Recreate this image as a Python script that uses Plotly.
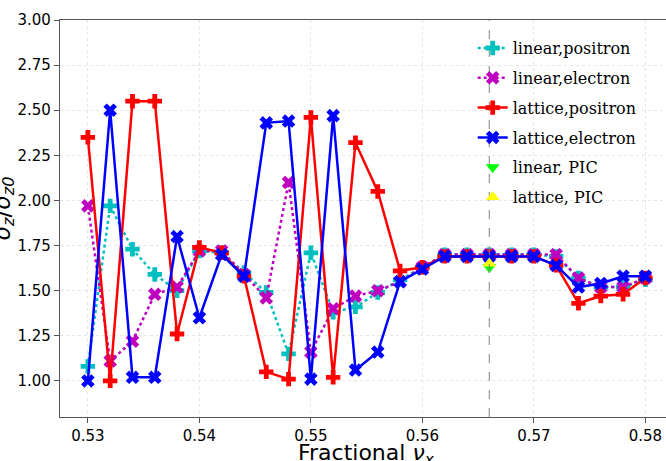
import plotly.graph_objects as go

nu_x = [0.530, 0.532, 0.534, 0.536, 0.538, 0.540, 0.542, 0.544, 0.546, 0.548,
        0.550, 0.552, 0.554, 0.556, 0.558, 0.560, 0.562, 0.564, 0.566, 0.568,
        0.570, 0.572, 0.574, 0.576, 0.578, 0.580]

linear_positron = [1.08, 1.97, 1.73, 1.59, 1.50, 1.72, 1.71, 1.60, 1.49, 1.15,
                   1.71, 1.38, 1.41, 1.49, 1.56, 1.63, 1.70, 1.70, 1.70, 1.70,
                   1.70, 1.69, 1.57, 1.52, 1.52, 1.56]
linear_electron = [1.97, 1.11, 1.22, 1.48, 1.52, 1.72, 1.72, 1.59, 1.46, 2.10,
                   1.16, 1.40, 1.47, 1.50, 1.55, 1.63, 1.70, 1.70, 1.70, 1.70,
                   1.70, 1.70, 1.57, 1.52, 1.52, 1.57]
lattice_positron = [2.35, 1.00, 2.55, 2.55, 1.26, 1.74, 1.71, 1.58, 1.05, 1.01,
                    2.46, 1.02, 2.32, 2.05, 1.61, 1.63, 1.69, 1.69, 1.69, 1.69,
                    1.69, 1.64, 1.43, 1.47, 1.48, 1.57]
lattice_electron = [1.00, 2.50, 1.02, 1.02, 1.80, 1.35, 1.70, 1.58, 2.43, 2.44,
                    1.01, 2.47, 1.06, 1.16, 1.55, 1.62, 1.69, 1.69, 1.69, 1.69,
                    1.69, 1.64, 1.52, 1.54, 1.58, 1.58]

pic_x = [0.566]
linear_pic = [1.63]
lattice_pic = [1.65]
dashed_x = 0.566

x_ticks = [0.53, 0.54, 0.55, 0.56, 0.57, 0.58]
y_ticks = [1.00, 1.25, 1.50, 1.75, 2.00, 2.25, 2.50, 2.75, 3.00]

fig = go.Figure()

fig.add_trace(go.Scatter(x=nu_x, y=linear_positron, mode="lines+markers",
                         name="linear,positron", legendgroup="a",
                         line=dict(color="#00BFBF", width=2.5, dash="dot"),
                         marker=dict(symbol="cross", size=12, color="#00BFBF")))
fig.add_trace(go.Scatter(x=nu_x, y=linear_electron, mode="lines+markers",
                         name="linear,electron", legendgroup="b",
                         line=dict(color="#BF00BF", width=2.5, dash="dot"),
                         marker=dict(symbol="x", size=12, color="#BF00BF")))
fig.add_trace(go.Scatter(x=nu_x, y=lattice_positron, mode="lines+markers",
                         name="lattice,positron", legendgroup="c",
                         line=dict(color="#FF0000", width=2.5),
                         marker=dict(symbol="cross", size=12, color="#FF0000")))
fig.add_trace(go.Scatter(x=nu_x, y=lattice_electron, mode="lines+markers",
                         name="lattice,electron", legendgroup="d",
                         line=dict(color="#0000FF", width=2.5),
                         marker=dict(symbol="x", size=12, color="#0000FF")))
fig.add_trace(go.Scatter(x=pic_x, y=linear_pic, mode="markers",
                         name="linear, PIC", legendgroup="e",
                         marker=dict(symbol="triangle-down", size=12, color="#00FF00")))
fig.add_trace(go.Scatter(x=pic_x, y=lattice_pic, mode="markers",
                         name="lattice, PIC", legendgroup="f",
                         marker=dict(symbol="triangle-up", size=12, color="#FFFF00")))

fig.add_vline(x=dashed_x, line=dict(color="gray", width=1, dash="dash"))

axis_common = dict(
    showline=True, linecolor="#555555", linewidth=1.2, mirror=True,
    ticks="outside", ticklen=5, tickcolor="#555555",
    showgrid=True, gridcolor="#e6e6e6", griddash="dot", gridwidth=1,
    zeroline=False, automargin=False,
    tickfont=dict(family="DejaVu Sans", size=15, color="black"),
)

fig.update_xaxes(range=[0.5275, 0.58185], tickvals=x_ticks, tickformat=".2f",
                 **axis_common)
fig.update_yaxes(range=[0.8, 3.0], tickvals=y_ticks, tickformat=".2f",
                 **axis_common)

fig.add_annotation(text="Fractional <i>ν<sub>x</sub></i>",
                   xref="paper", yref="paper", x=0.505, y=-0.0957,
                   xanchor="center", yanchor="middle",
                   showarrow=False,
                   font=dict(family="DejaVu Sans", size=22, color="black"))
fig.add_annotation(text="<i>σ<sub>z</sub></i>/<i>σ<sub>z0</sub></i>",
                   xref="paper", yref="paper", x=-0.093, y=0.524,
                   xanchor="center", yanchor="middle", textangle=-90,
                   showarrow=False,
                   font=dict(family="DejaVu Sans", size=23, color="black"))

fig.update_layout(
    width=666, height=461,
    margin=dict(l=60, r=0, t=20, b=44),
    plot_bgcolor="white", paper_bgcolor="white",
    showlegend=True,
    legend=dict(x=0.681, y=0.972, xanchor="left", yanchor="top",
                bgcolor="rgba(0,0,0,0)",
                font=dict(family="DejaVu Serif", size=16, color="black"),
                tracegroupgap=6),
)

fig.write_html("out.html", config={"displayModeBar": False},
               post_script="document.body.style.margin='0';document.body.style.padding='0';")
